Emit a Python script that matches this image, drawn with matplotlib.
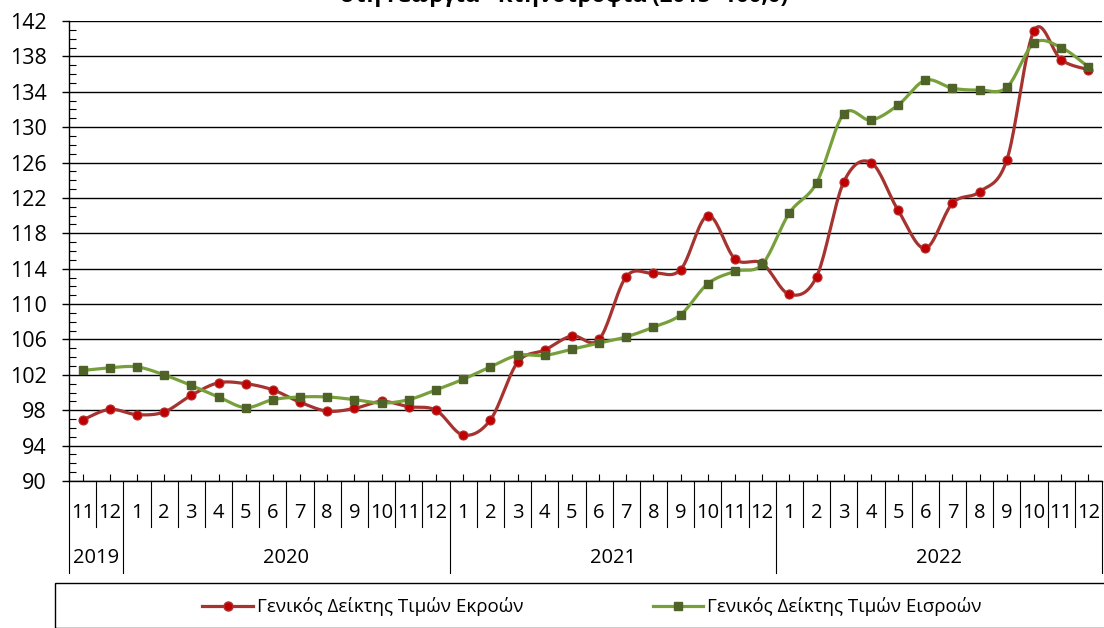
import numpy as np
import matplotlib.pyplot as plt
from matplotlib.lines import Line2D
from matplotlib.patches import Rectangle
from matplotlib.ticker import MultipleLocator

plt.rcParams['font.family'] = ['Open Sans', 'DejaVu Sans']

# months shown on the x axis (11/2019 .. 12/2022)
months = ['11', '12'] + [str(m) for m in range(1, 13)] * 3
years = ['2019', '2020', '2021', '2022']
year_len = [2, 12, 12, 12]
yticks = list(range(90, 143, 4))

outputs = [96.9, 98.1, 97.5, 97.8, 99.7, 101.1, 101.0, 100.3, 98.9, 97.9, 98.2, 99.0, 98.4, 98.0,
           95.2, 96.9, 103.4, 104.8, 106.4, 106.0, 113.1, 113.5, 113.9, 120.0, 115.1, 114.6,
           111.1, 113.1, 123.8, 126.0, 120.6, 116.3, 121.4, 122.7, 126.3, 140.9, 137.6, 136.5]
inputs = [102.5, 102.8, 102.9, 102.0, 100.8, 99.5, 98.3, 99.2, 99.5, 99.5, 99.2, 98.8, 99.2, 100.3,
          101.5, 102.9, 104.2, 104.2, 104.9, 105.6, 106.3, 107.4, 108.8, 112.3, 113.7, 114.5,
          120.3, 123.7, 131.5, 130.8, 132.5, 135.3, 134.4, 134.2, 134.5, 139.5, 139.0, 136.8]

label_out = 'Γενικός Δείκτης Τιμών Εκροών'
label_in = 'Γενικός Δείκτης Τιμών Εισροών'
title = 'Γενικοί Δείκτες Τιμών Εκροών και Εισροών\nστη Γεωργία - Κτηνοτροφία (2015=100,0)'


def smooth(x, y, n=20):
    # Excel-like smoothed line (cubic bezier, 1/6 tangents)
    x = np.asarray(x, float)
    y = np.asarray(y, float)
    px = np.concatenate([[x[0]], x, [x[-1]]])
    py = np.concatenate([[y[0]], y, [y[-1]]])
    t = np.linspace(0, 1, n)[:, None]
    xs, ys = [], []
    for i in range(1, len(px) - 2):
        p0 = np.array([px[i], py[i]])
        p3 = np.array([px[i + 1], py[i + 1]])
        p1 = p0 + (p3 - np.array([px[i - 1], py[i - 1]])) / 6
        p2 = p3 - (np.array([px[i + 2], py[i + 2]]) - p0) / 6
        b = ((1 - t) ** 3) * p0 + 3 * ((1 - t) ** 2) * t * p1 + 3 * (1 - t) * t ** 2 * p2 + t ** 3 * p3
        xs.append(b[:, 0])
        ys.append(b[:, 1])
    return np.concatenate(xs), np.concatenate(ys)


W, H = 1104, 628
fig = plt.figure(figsize=(W / 100, H / 100), dpi=100)
left, right, top, bottom = 69, 1102, 21, 481
ax = fig.add_axes([left / W, 1 - bottom / H, (right - left) / W, (bottom - top) / H])

n = len(months)
xpos = np.arange(n) + 0.5

red_line = '#A5332F'
red_face = '#C00000'
green_line = '#77A03A'
green_face = '#4F6228'

sx, sy = smooth(xpos, outputs)
ax.plot(sx, sy, color=red_line, lw=2.3, zorder=3, clip_on=False)
ax.plot(xpos, outputs, ls='none', marker='o', ms=6.5, mfc=red_face, mec='#B03030', mew=0.8,
        zorder=4, clip_on=False)
sx, sy = smooth(xpos, inputs)
ax.plot(sx, sy, color=green_line, lw=2.3, zorder=5, clip_on=False)
ax.plot(xpos, inputs, ls='none', marker='s', ms=5.2, mfc=green_face, mec=green_face,
        zorder=6, clip_on=False)

ax.set_xlim(0, n)
ax.set_ylim(90, 142)
ax.set_yticks(yticks)
ax.yaxis.set_minor_locator(MultipleLocator(1))
ax.grid(axis='y', which='major', color='black', lw=1, zorder=1)
ax.tick_params(axis='y', which='major', direction='out', length=5, width=1, labelsize=15.5, pad=11)
ax.tick_params(axis='y', which='minor', direction='in', length=5, width=0.8)
ax.set_xticks([])
ax.set_xticks(xpos, minor=True)
ax.tick_params(axis='x', which='minor', direction='in', length=5, width=0.8, labelbottom=False)
for s in ['top', 'right']:
    ax.spines[s].set_visible(False)
ax.spines['left'].set_linewidth(1)
ax.spines['bottom'].set_linewidth(1)

# category axis: month labels, separators, year labels
trans = ax.get_xaxis_transform()
ph = bottom - top
y_mon = -(527 - bottom) / ph
y_year = -(573 - bottom) / ph
for i, m in enumerate(months):
    ax.text(i + 0.5, -(513 - bottom) / ph, m, transform=trans, ha='center', va='center', fontsize=14.5)
year_edges = np.concatenate([[0], np.cumsum(year_len)])
for b in range(n + 1):
    y_end = y_year if b in year_edges else y_mon
    ax.plot([b, b], [0, y_end], transform=trans, color='black', lw=0.8, clip_on=False)
for k, yr in enumerate(years):
    mid = (year_edges[k] + year_edges[k + 1]) / 2
    ax.text(mid, -(558 - bottom) / ph, yr, transform=trans, ha='center', va='center', fontsize=14.5)

# title (top part is cut off in the original image)
fig.text(564 / W, 1 - 2 / H, title, ha='center', va='baseline', fontsize=16, fontweight='bold',
         linespacing=1.2)

# legend box
fig.add_artist(Rectangle((55 / W, 0), 1.0, 1 - 583 / H, transform=fig.transFigure,
                         fill=False, ec='black', lw=1))
handles = [Line2D([], [], color=red_line, lw=2.3, marker='o', ms=6.5, mfc=red_face, mec='#B03030'),
           Line2D([], [], color=green_line, lw=2.3, marker='s', ms=5.2, mfc=green_face, mec=green_face)]
fig.legend(handles, [label_out, label_in], ncol=2, frameon=False, fontsize=13.5,
           loc='center', bbox_to_anchor=(592 / W, 1 - 607 / H), handlelength=2.7,
           handletextpad=0.2, columnspacing=6.9, borderpad=0)

fig.savefig('out.png', dpi=100)
